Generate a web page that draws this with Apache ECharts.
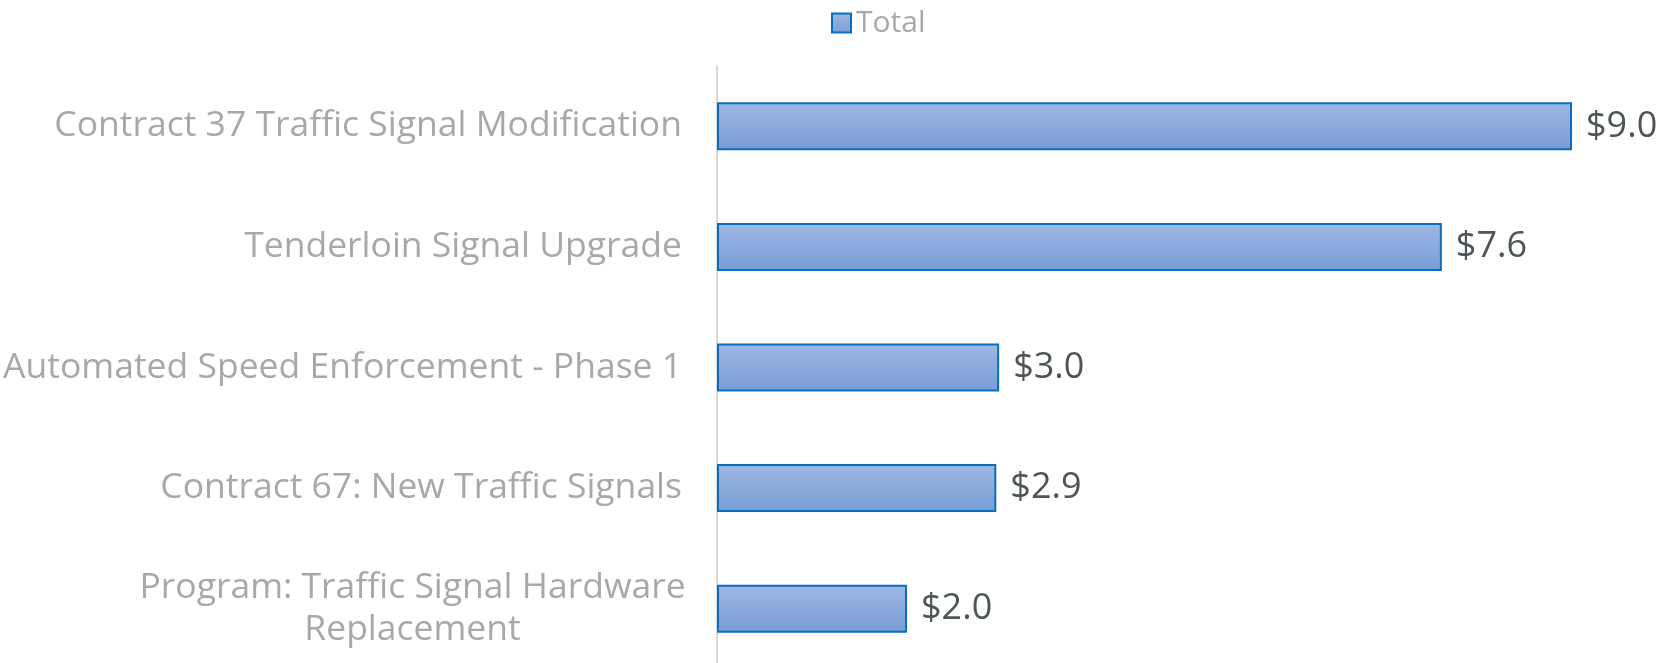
<!DOCTYPE html>
<html><head><meta charset="utf-8">
<script src="https://cdn.jsdelivr.net/npm/echarts@6/dist/echarts.min.js"></script>
<style>html,body{margin:0;padding:0;background:#fff}#c{width:1677px;height:663px}</style>
</head><body><div id="c"></div>
<script>
const categories = [
  'Contract 37 Traffic Signal Modification',
  'Tenderloin Signal Upgrade',
  'Automated Speed Enforcement - Phase 1',
  'Contract 67: New Traffic Signals',
  'Program: Traffic Signal Hardware Replacement'
];
const totals = [9.0, 7.63, 2.97, 2.94, 2.0];
const seriesName = 'Total';

const chart = echarts.init(document.getElementById('c'));
const FONT = '"Open Sans", "Noto Sans", sans-serif';
chart.setOption({
  animation: false,
  legend: {
    top: 3, left: 826,
    icon: 'rect',
    itemWidth: 19, itemHeight: 19, itemGap: 8,
    textStyle: { color: '#a5a9ab', fontSize: 30, fontFamily: FONT },
    data: [seriesName]
  },
  grid: { left: 717, width: 950, top: 66, bottom: -6, containLabel: false, outerBoundsMode: 'none' },
  xAxis: {
    type: 'value', min: 0, max: 10,
    show: false, splitLine: { show: false }
  },
  yAxis: {
    type: 'category', inverse: true,
    data: categories.map((c, i) => i === categories.length - 1
      ? { value: c, textStyle: { align: 'center', padding: [4, 539, 0, 0] } }
      : c),
    axisLine: { show: true, lineStyle: { color: '#d9d9d9', width: 2 } },
    axisTick: { show: false },
    axisLabel: {
      margin: 35, color: '#a5a9ab', fontSize: 35.5, fontFamily: FONT, lineHeight: 42,
      padding: [4, 0, 0, 0],
      formatter: v => v.replace('Hardware ', 'Hardware\n')
    }
  },
  series: [{
    name: seriesName, type: 'bar', data: totals,
    barWidth: 48,
    itemStyle: {
      color: new echarts.graphic.LinearGradient(0, 0, 0, 1, [
        { offset: 0, color: '#9db7e3' }, { offset: 1, color: '#789dd5' }
      ]),
      borderColor: '#0a6ebd', borderWidth: 2
    },
    label: {
      show: true, position: 'right', distance: 14,
      color: '#4d5559', fontSize: 36, fontFamily: FONT,
      padding: [5, 0, 0, 0],
      formatter: p => '$' + p.value.toFixed(1)
    }
  }]
});
</script></body></html>
